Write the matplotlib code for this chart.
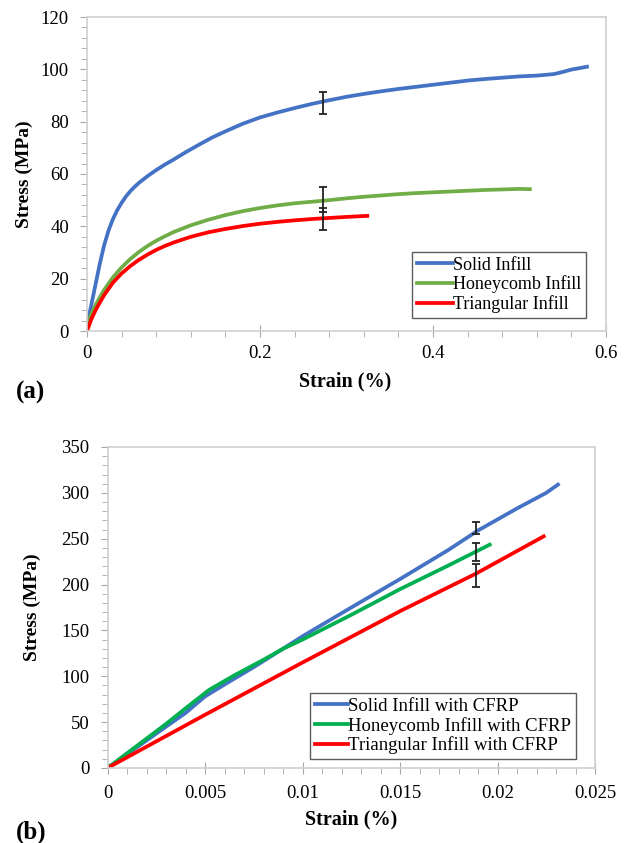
import matplotlib
matplotlib.use("Agg")
import matplotlib.pyplot as plt
from matplotlib.ticker import MultipleLocator, FuncFormatter

plt.rcParams['font.family'] = ['Liberation Serif', 'DejaVu Serif']

# Panel (a) data
a_solid_x = [0, 0.005, 0.01, 0.015, 0.02, 0.025, 0.03, 0.035, 0.04, 0.045, 0.05, 0.055, 0.06, 0.07, 0.08, 0.09, 0.1,
             0.115, 0.13, 0.145, 0.16, 0.18, 0.2, 0.22, 0.24, 0.26, 0.28, 0.3, 0.32, 0.34, 0.36, 0.38, 0.4,
             0.42, 0.44, 0.46, 0.48, 0.5, 0.52, 0.54, 0.55, 0.56, 0.57, 0.578]
a_solid_y = [2, 10, 18, 26, 33, 38.5, 42.8, 46.2, 49.0, 51.4, 53.4, 55.1, 56.6, 59.2, 61.5, 63.6, 65.5,
             68.5, 71.3, 74, 76.3, 79.2, 81.6, 83.5, 85.2, 86.8, 88.2, 89.5, 90.6, 91.6, 92.5, 93.3, 94.1,
             94.9, 95.7, 96.3, 96.8, 97.3, 97.6, 98.2, 99.0, 99.9, 100.5, 101]
a_honey_x = [0, 0.005, 0.01, 0.015, 0.02, 0.03, 0.04, 0.05, 0.06, 0.07, 0.08, 0.09, 0.1, 0.12, 0.14, 0.16,
             0.18, 0.2, 0.22, 0.24, 0.26, 0.28, 0.3, 0.32, 0.34, 0.36, 0.38, 0.4, 0.42, 0.44, 0.46, 0.48,
             0.5, 0.512]
a_honey_y = [2, 6.5, 10, 13, 15.8, 20.5, 24.3, 27.5, 30.2, 32.5, 34.5, 36.2, 37.8, 40.4, 42.5, 44.3,
             45.8, 47, 48, 48.8, 49.4, 50, 50.7, 51.3, 51.8, 52.3, 52.7, 53, 53.3, 53.6, 53.9, 54.1,
             54.3, 54.2]
a_tri_x = [0, 0.005, 0.01, 0.015, 0.02, 0.03, 0.04, 0.05, 0.06, 0.07, 0.08, 0.09, 0.1, 0.12, 0.14, 0.16,
           0.18, 0.2, 0.22, 0.24, 0.26, 0.28, 0.3, 0.324]
a_tri_y = [0, 4.5, 8, 11, 13.8, 18.5, 22, 24.8, 27.2, 29.2, 31, 32.5, 33.8, 36, 37.7, 39,
           40.1, 41, 41.7, 42.3, 42.8, 43.2, 43.6, 44]
a_err_x = [0.273, 0.273, 0.273]
a_err_lo = [82.8, 45.6, 38.6]
a_err_hi = [91.2, 54.9, 47.1]
a_labels = ['Solid Infill', 'Honeycomb Infill', 'Triangular Infill']

# Panel (b) data
b_solid_x = [0, 0.001, 0.002, 0.003, 0.004, 0.005, 0.006, 0.0075, 0.009, 0.01, 0.0125, 0.015, 0.0175,
             0.019, 0.021, 0.0225, 0.0231]
b_solid_y = [0, 15, 30, 45, 60, 78, 91, 110, 130, 143.6, 175, 206, 238, 259, 283, 300, 309]
b_honey_x = [0, 0.001, 0.002, 0.003, 0.004, 0.0052, 0.0065, 0.008, 0.009, 0.01, 0.0125, 0.015, 0.0175, 0.0196]
b_honey_y = [0, 16, 32, 48, 65, 85, 101, 118, 130, 140, 167, 195, 221, 243.5]
b_tri_x = [0, 0.005, 0.01, 0.015, 0.0189, 0.02237]
b_tri_y = [0, 58, 115, 171, 212, 252.6]
b_err_x = [0.0189, 0.0189, 0.0189]
b_err_lo = [254.7, 225.3, 197.4]
b_err_hi = [267.8, 245.4, 222.8]
b_labels = ['Solid Infill with CFRP', 'Honeycomb Infill with CFRP', 'Triangular Infill with CFRP']

blue = '#4472C4'
green_a = '#70AD47'
green_b = '#00B050'
red = '#FF0000'
gray = '#d0d0d0'

W, H = 629, 843
fig = plt.figure(figsize=(W/100, H/100), dpi=100)
ax1 = fig.add_axes([87/W, 1-331/H, (606-87)/W, (331-17)/H])
ax2 = fig.add_axes([107.5/W, 1-768/H, (595-107.5)/W, (768-447)/H])

TICK = 13.5


def style(ax, xpad):
    for s in ax.spines.values():
        s.set_color(gray)
        s.set_linewidth(1.2)
    ax.tick_params(axis='both', which='both', colors='#a8a8a8', labelcolor='black', labelsize=TICK)
    ax.tick_params(axis='x', which='major', direction='inout', length=8, pad=xpad)
    ax.tick_params(axis='x', which='minor', direction='out', length=4)
    ax.tick_params(axis='y', which='major', direction='out', length=5, pad=8)
    ax.tick_params(axis='y', which='minor', direction='out', length=4)


def fmt(v, pos):
    return ('%.3f' % v).rstrip('0').rstrip('.')


lw = 2.7
ax1.plot(a_solid_x, a_solid_y, color=blue, lw=lw, label=a_labels[0])
ax1.plot(a_honey_x, a_honey_y, color=green_a, lw=lw, label=a_labels[1])
ax1.plot(a_tri_x, a_tri_y, color=red, lw=lw, label=a_labels[2])
for x, lo, hi in zip(a_err_x, a_err_lo, a_err_hi):
    ax1.errorbar([x], [(lo + hi) / 2], yerr=[[(hi - lo) / 2], [(hi - lo) / 2]], fmt='none',
                 ecolor='#222222', elinewidth=1.3, capsize=3.2, capthick=1.3)
ax1.set_xlim(0, 0.6)
ax1.set_ylim(0, 120)
ax1.xaxis.set_major_locator(MultipleLocator(0.2))
ax1.xaxis.set_minor_locator(MultipleLocator(0.04))
ax1.yaxis.set_major_locator(MultipleLocator(20))
ax1.yaxis.set_minor_locator(MultipleLocator(4))
ax1.xaxis.set_major_formatter(FuncFormatter(fmt))
style(ax1, 6)
ax1.set_xlabel('Strain (%)', fontsize=14.5, fontweight='bold')
ax1.xaxis.set_label_coords((345 - 87) / (606 - 87), -(371 - 331) / (331 - 17))
ax1.set_ylabel('Stress (MPa)', fontsize=14, fontweight='bold')
ax1.yaxis.set_label_coords(-(87 - 33) / (606 - 87), 0.5)
leg1 = ax1.legend(loc='lower right', bbox_to_anchor=((586 - 87) / (606 - 87), (331 - 318) / (331 - 17)),
                  fontsize=13, frameon=True, fancybox=False,
                  handlelength=2.0, handletextpad=0.0, borderpad=0.28, labelspacing=0.1, borderaxespad=0)
leg1.get_frame().set_edgecolor('#333333')
leg1.get_frame().set_linewidth(1.0)

ax2.plot(b_solid_x, b_solid_y, color=blue, lw=lw, label=b_labels[0])
ax2.plot(b_honey_x, b_honey_y, color=green_b, lw=lw, label=b_labels[1])
ax2.plot(b_tri_x, b_tri_y, color=red, lw=lw, label=b_labels[2])
for x, lo, hi in zip(b_err_x, b_err_lo, b_err_hi):
    ax2.errorbar([x], [(lo + hi) / 2], yerr=[[(hi - lo) / 2], [(hi - lo) / 2]], fmt='none',
                 ecolor='#222222', elinewidth=1.3, capsize=3.2, capthick=1.3)
ax2.set_xlim(0, 0.025)
ax2.set_ylim(0, 350)
ax2.xaxis.set_major_locator(MultipleLocator(0.005))
ax2.xaxis.set_minor_locator(MultipleLocator(0.001))
ax2.yaxis.set_major_locator(MultipleLocator(50))
ax2.yaxis.set_minor_locator(MultipleLocator(10))
ax2.xaxis.set_major_formatter(FuncFormatter(fmt))
style(ax2, 8)
ax2.set_xlabel('Strain (%)', fontsize=14.5, fontweight='bold')
ax2.xaxis.set_label_coords(0.5, -(809 - 768) / (768 - 447))
ax2.set_ylabel('Stress (MPa)', fontsize=14, fontweight='bold')
ax2.yaxis.set_label_coords(-(107.5 - 41) / (595 - 107.5), 0.5)
leg2 = ax2.legend(loc='lower right', bbox_to_anchor=((576 - 107.5) / (595 - 107.5), (768 - 759) / (768 - 447)),
                  fontsize=13.5, frameon=True, fancybox=False,
                  handlelength=1.8, handletextpad=0.0, borderpad=0.25, labelspacing=0.1, borderaxespad=0)
leg2.get_frame().set_edgecolor('#333333')
leg2.get_frame().set_linewidth(1.0)

fig.text(16 / W, 1 - 392 / H, '(a)', fontsize=18, fontweight='bold', va='center', ha='left')
fig.text(16 / W, 1 - 832 / H, '(b)', fontsize=18, fontweight='bold', va='center', ha='left')

fig.savefig('out.png', dpi=100)
